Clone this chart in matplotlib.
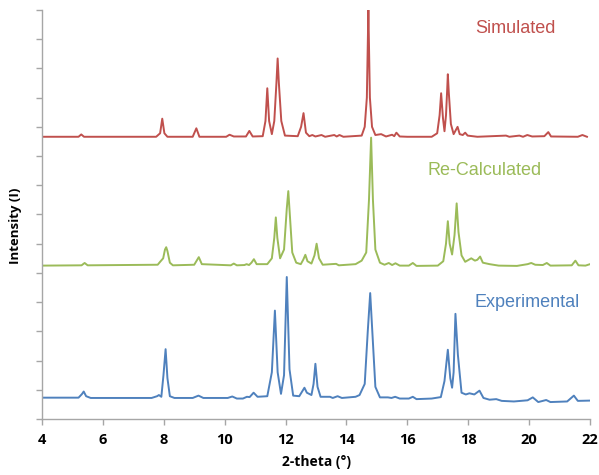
import numpy as np
import matplotlib.pyplot as plt

# valori (2-theta, intensita' con offset)
sim_x = [4.0, 5.2, 5.29, 5.38, 7.75, 7.88, 7.95, 8.02, 8.12, 8.95, 9.07, 9.17, 10.05, 10.16, 10.3,
         10.7, 10.81, 10.92, 11.25, 11.34, 11.40, 11.46, 11.55, 11.63, 11.70, 11.74, 11.78, 11.86,
         11.98, 12.4, 12.51, 12.59, 12.67, 12.78, 12.88, 12.98, 13.18, 13.3, 13.6, 13.68, 13.77,
         13.9, 14.5, 14.6, 14.67, 14.70, 14.72, 14.74, 14.77, 14.84, 14.95, 15.14, 15.3, 15.5,
         15.57, 15.64, 15.75, 16.0, 16.8, 16.98, 17.06, 17.11, 17.17, 17.22, 17.27, 17.31, 17.33,
         17.36, 17.43, 17.52, 17.65, 17.72, 17.82, 17.9, 17.98, 18.3, 19.24, 19.35, 19.68, 19.8,
         19.94, 20.1, 20.5, 20.63, 20.72, 21.6, 21.75, 21.9]
sim_y = [9.66, 9.66, 9.74, 9.66, 9.66, 9.78, 10.28, 9.78, 9.66, 9.66, 9.95, 9.66, 9.66, 9.73, 9.67,
         9.67, 9.86, 9.67, 9.68, 10.2, 11.32, 10.2, 9.75, 10.2, 11.5, 12.34, 11.5, 10.2,
         9.7, 9.68, 10.0, 10.47, 9.8, 9.68, 9.72, 9.67, 9.72, 9.66, 9.72, 9.67, 9.72,
         9.66, 9.7, 10.0, 11.0, 12.8, 14.0, 12.8, 11.0, 10.0, 9.72, 9.75, 9.67, 9.73,
         9.68, 9.8, 9.67, 9.66, 9.66, 9.78, 10.4, 11.15, 10.3, 9.85, 10.4, 11.3, 11.8,
         11.2, 10.1, 9.75, 10.0, 9.75, 9.72, 9.8, 9.7, 9.66, 9.7, 9.66, 9.7, 9.66,
         9.72, 9.67, 9.68, 9.82, 9.67, 9.66, 9.72, 9.66]

rec_x = [4.0, 5.3, 5.40, 5.5, 7.8, 7.88, 7.98, 8.04, 8.08, 8.12, 8.2, 8.3, 9.0, 9.15, 9.25, 10.2,
         10.3, 10.4, 10.65, 10.72, 10.8, 10.88, 10.96, 11.05, 11.4, 11.55, 11.63, 11.68, 11.73,
         11.82, 11.95, 12.04, 12.09, 12.14, 12.22, 12.35, 12.5, 12.58, 12.65, 12.72, 12.85, 12.95,
         13.02, 13.1, 13.22, 13.5, 13.66, 13.75, 14.3, 14.5, 14.65, 14.74, 14.81, 14.87, 14.95,
         15.1, 15.25, 15.39, 15.5, 15.61, 15.75, 16.05, 16.18, 16.3, 17.0, 17.18, 17.27, 17.33,
         17.39, 17.47, 17.55, 17.62, 17.68, 17.78, 17.9, 18.1, 18.22, 18.3, 18.39, 18.48, 18.7,
         19.0, 19.6, 19.95, 20.07, 20.2, 20.45, 20.58, 20.7, 21.4, 21.52, 21.62, 21.85, 22.0]
rec_y = [5.25, 5.26, 5.34, 5.26, 5.28, 5.38, 5.5, 5.8, 5.88, 5.75, 5.35, 5.26, 5.28, 5.54, 5.3, 5.26,
         5.32, 5.26, 5.27, 5.3, 5.27, 5.35, 5.47, 5.3, 5.3, 5.5, 6.2, 6.9, 6.2,
         5.5, 5.8, 7.2, 7.8, 7.0, 5.7, 5.35, 5.3, 5.45, 5.62, 5.4, 5.32, 5.6,
         6.0, 5.5, 5.28, 5.3, 5.31, 5.26, 5.3, 5.42, 5.7, 7.5, 9.63, 7.5, 5.8,
         5.35, 5.28, 5.34, 5.27, 5.33, 5.25, 5.25, 5.34, 5.24, 5.25, 5.4, 6.0, 6.77,
         6.0, 5.63, 6.3, 7.38, 6.4, 5.6, 5.38, 5.5, 5.42, 5.45, 5.56, 5.35, 5.3,
         5.25, 5.24, 5.3, 5.34, 5.28, 5.27, 5.34, 5.25, 5.26, 5.42, 5.26, 5.25, 5.3]

exp_x = [4.0, 5.2, 5.31, 5.37, 5.45, 5.6, 7.6, 7.78, 7.84, 7.92, 7.99, 8.06, 8.12, 8.2, 8.35, 8.95,
         9.14, 9.3, 10.1, 10.25, 10.4, 10.6, 10.73, 10.82, 10.95, 11.08, 11.4, 11.55, 11.65, 11.74,
         11.85, 11.95, 12.04, 12.13, 12.25, 12.45, 12.55, 12.62, 12.7, 12.85, 12.92, 12.98, 13.05,
         13.15, 13.46, 13.55, 13.71, 13.85, 14.3, 14.43, 14.6, 14.7, 14.78, 14.86, 14.95, 15.1,
         15.36, 15.48, 15.6, 15.75, 16.05, 16.18, 16.3, 16.8, 17.1, 17.22, 17.33, 17.41, 17.47,
         17.52, 17.58, 17.66, 17.78, 17.92, 18.04, 18.2, 18.37, 18.5, 18.7, 18.92, 19.1, 19.5,
         19.95, 20.12, 20.3, 20.56, 20.7, 21.25, 21.47, 21.6, 22.0]
exp_y = [0.73, 0.73, 0.85, 0.94, 0.78, 0.72, 0.72, 0.78, 0.82, 0.76, 1.5, 2.39, 1.4, 0.78, 0.72, 0.72,
         0.8, 0.72, 0.72, 0.77, 0.7, 0.7, 0.76, 0.75, 0.9, 0.76, 0.78, 1.6, 3.71, 1.6,
         0.86, 1.5, 4.86, 1.7, 0.8, 0.78, 0.95, 1.07, 0.9, 0.82, 1.2, 1.89, 1.1,
         0.76, 0.76, 0.72, 0.78, 0.72, 0.76, 0.82, 1.2, 3.0, 4.31, 2.8, 1.1, 0.74,
         0.74, 0.72, 0.76, 0.7, 0.7, 0.76, 0.68, 0.7, 0.75, 1.3, 2.37, 1.4, 1.07,
         1.6, 3.6, 2.2, 0.9, 0.84, 0.88, 0.84, 0.97, 0.72, 0.66, 0.68, 0.62, 0.6,
         0.64, 0.74, 0.58, 0.65, 0.58, 0.6, 0.8, 0.62, 0.63]

nomi = ['Simulated', 'Re-Calculated', 'Experimental']
colori = ['#C0504D', '#9BBB59', '#4F81BD']
xticks = [4, 6, 8, 10, 12, 14, 16, 18, 20, 22]

fig = plt.figure(figsize=(5.99, 4.75), dpi=100)
ax = fig.add_axes([0.0701, 0.1179, 0.9149, 0.8611])

for xx, yy, c in zip([sim_x, rec_x, exp_x], [sim_y, rec_y, exp_y], colori):
    ax.plot(xx, yy, color=c, lw=1.4)

# etichette delle serie
ax.text(18.24, 13.35, nomi[0], color=colori[0], fontsize=13, family='Liberation Sans', va='center')
ax.text(16.65, 8.52, nomi[1], color=colori[1], fontsize=13, family='Liberation Sans', va='center')
ax.text(18.2, 3.98, nomi[2], color=colori[2], fontsize=13, family='Liberation Sans', va='center')

ax.set_xlim(4, 22)
ax.set_ylim(0, 14)
ax.set_xticks(xticks)
ax.set_xticklabels([str(t) for t in xticks], fontsize=10.5, fontweight='bold', family='Open Sans')
ax.set_yticks(np.arange(0, 15, 1))
ax.set_yticklabels([])
ax.tick_params(axis='both', direction='out', length=4, color='#A6A6A6', width=1)
ax.tick_params(axis='x', pad=6)

for s in ['top', 'right']:
    ax.spines[s].set_visible(False)
for s in ['left', 'bottom']:
    ax.spines[s].set_color('#A6A6A6')
    ax.spines[s].set_linewidth(1)

ax.set_xlabel('2-theta (°)', fontsize=10, fontweight='bold', family='Open Sans', labelpad=6)
ax.set_ylabel('Intensity (I)', fontsize=9.5, fontweight='bold', family='Open Sans')
ax.yaxis.set_label_coords(-0.036, 0.472)

fig.savefig('out.png', dpi=100)
